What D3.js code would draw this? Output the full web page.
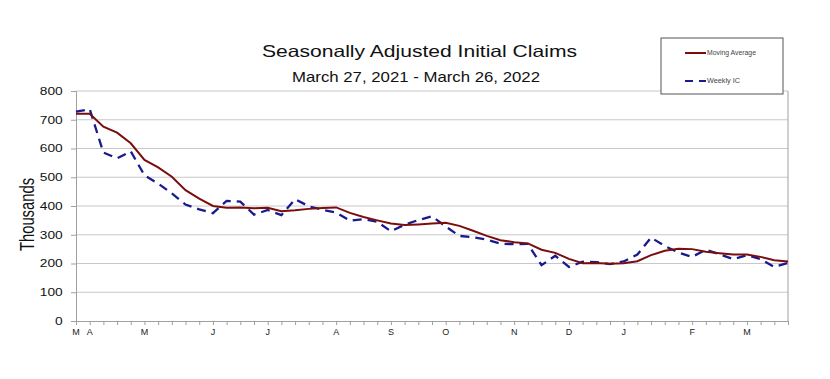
<!DOCTYPE html>
<html>
<head>
<meta charset="utf-8">
<script src="https://cdn.jsdelivr.net/npm/d3@7"></script>
<style>
  body { margin: 0; background: #fff; }
  text { font-family: "Liberation Sans", Arial, sans-serif; }
</style>
</head>
<body>
<svg width="830" height="379"></svg>
<script>
// week index 0 = Mar 27, 2021 ... 52 = Mar 26, 2022
var weeklyIC = [728, 737, 586, 566, 590, 507, 478, 444, 405, 388, 375, 418, 415, 370, 386, 368,
  424, 399, 387, 377, 349, 354, 345, 312, 335, 351, 364, 329, 296, 291, 283, 269, 267, 268,
  194, 227, 188, 206, 205, 198, 207, 231, 290, 261, 238, 223, 248, 232, 215, 229, 215, 188, 202];
var movingAvg = [721, 721, 676, 655, 618, 560, 534, 502, 455, 426, 400, 394, 395, 392, 394, 382,
  385, 390, 393, 395, 376, 362, 350, 339, 334, 336, 339, 342, 331, 314, 296, 281, 274, 270,
  248, 237, 216, 201, 202, 199, 201, 208, 229, 244, 251, 250, 241, 236, 231, 231, 223, 211, 207];
var monthLabels = [[0, "M"], [1, "A"], [5, "M"], [10, "J"], [14, "J"], [19, "A"], [23, "S"],
  [27, "O"], [32, "N"], [36, "D"], [40, "J"], [45, "F"], [49, "M"]];
var yTicks = [0, 100, 200, 300, 400, 500, 600, 700, 800];

var svg = d3.select("svg");
var plotLeft = 76, plotRight = 788, plotTop = 91, plotBottom = 321;
var stretch = 1.32; // the reference text is widened horizontally

var x = d3.scaleLinear().domain([0, 52]).range([plotLeft, plotRight]);
var y = d3.scaleLinear().domain([0, 800]).range([plotBottom, plotTop]);

// grid
svg.append("g")
    .selectAll("line")
    .data(yTicks.slice(1))
    .enter()
    .append("line")
    .attr("x1", plotLeft).attr("x2", plotRight)
    .attr("y1", d => y(d)).attr("y2", d => y(d))
    .attr("stroke", "#c8c8c8")
    .attr("stroke-width", 1.2);

// plot border (right side)
svg.append("line")
    .attr("x1", plotRight).attr("x2", plotRight).attr("y1", plotTop).attr("y2", plotBottom)
    .attr("stroke", "#b0b0b0").attr("stroke-width", 1.2);

// y axis
var yAxis = svg.append("g")
    .attr("transform", "translate(" + plotLeft + ",0)")
    .call(d3.axisLeft(y).tickValues(yTicks).tickSize(5));
yAxis.select(".domain").attr("stroke", "#a0a0a0");
yAxis.selectAll(".tick line").attr("stroke", "#a0a0a0");
yAxis.selectAll("text")
    .attr("x", -13.3 / stretch)
    .attr("transform", "scale(" + stretch + ",1)")
    .attr("font-size", 10.4)
    .attr("fill", "#111")
    .style("font-family", "'Liberation Sans', Arial, sans-serif");

// x axis with weekly ticks
var xAxis = svg.append("g")
    .attr("transform", "translate(0," + plotBottom + ")")
    .call(d3.axisBottom(x).tickValues(d3.range(0, 53)).tickSize(4).tickFormat(""));
xAxis.select(".domain").attr("stroke", "#a0a0a0");
xAxis.selectAll(".tick line").attr("stroke", "#a0a0a0");

svg.append("g")
    .selectAll("text")
    .data(monthLabels)
    .enter()
    .append("text")
    .attr("x", d => x(d[0]))
    .attr("y", plotBottom + 14)
    .attr("text-anchor", "middle")
    .attr("font-size", 9)
    .attr("fill", "#222")
    .text(d => d[1]);

// lines
var line = d3.line()
    .x((d, i) => x(i))
    .y(d => y(d));

svg.append("path")
    .datum(weeklyIC)
    .attr("fill", "none")
    .attr("stroke", "#1a1a8e")
    .attr("stroke-width", 2.3)
    .attr("stroke-dasharray", "9,6")
    .attr("d", line);

svg.append("path")
    .datum(movingAvg)
    .attr("fill", "none")
    .attr("stroke", "#7a0e0e")
    .attr("stroke-width", 2)
    .attr("d", line);

// titles
svg.append("text")
    .attr("x", 262).attr("y", 56.5)
    .attr("font-size", 16.5)
    .attr("textLength", 315)
    .attr("lengthAdjust", "spacingAndGlyphs")
    .attr("fill", "#111")
    .text("Seasonally Adjusted Initial Claims");

svg.append("text")
    .attr("x", 292).attr("y", 82)
    .attr("font-size", 14.5)
    .attr("textLength", 248)
    .attr("lengthAdjust", "spacingAndGlyphs")
    .attr("fill", "#111")
    .text("March 27, 2021 - March 26, 2022");

svg.append("text")
    .attr("transform", "translate(34,214.5) scale(" + stretch + ",1) rotate(-90)")
    .attr("text-anchor", "middle")
    .attr("font-size", 14.8)
    .attr("fill", "#111")
    .text("Thousands");

// legend
var legend = svg.append("g");
legend.append("rect")
    .attr("x", 661).attr("y", 38).attr("width", 122).attr("height", 56)
    .attr("fill", "#fff").attr("stroke", "#555").attr("stroke-width", 1);

var legendItems = [
  { label: "Moving Average", color: "#7a0e0e", dash: null, y: 53, w: 49 },
  { label: "Weekly IC", color: "#1a1a8e", dash: "8,6", y: 81, w: 33 }
];
legendItems.forEach(function (d) {
  legend.append("line")
      .attr("x1", 685).attr("x2", 706).attr("y1", d.y).attr("y2", d.y)
      .attr("stroke", d.color).attr("stroke-width", 2)
      .attr("stroke-dasharray", d.dash);
  legend.append("text")
      .attr("x", 707).attr("y", d.y + 2.3)
      .attr("font-size", 6.5)
      .attr("textLength", d.w)
      .attr("lengthAdjust", "spacingAndGlyphs")
      .attr("fill", "#444")
      .text(d.label);
});
</script>
</body>
</html>
